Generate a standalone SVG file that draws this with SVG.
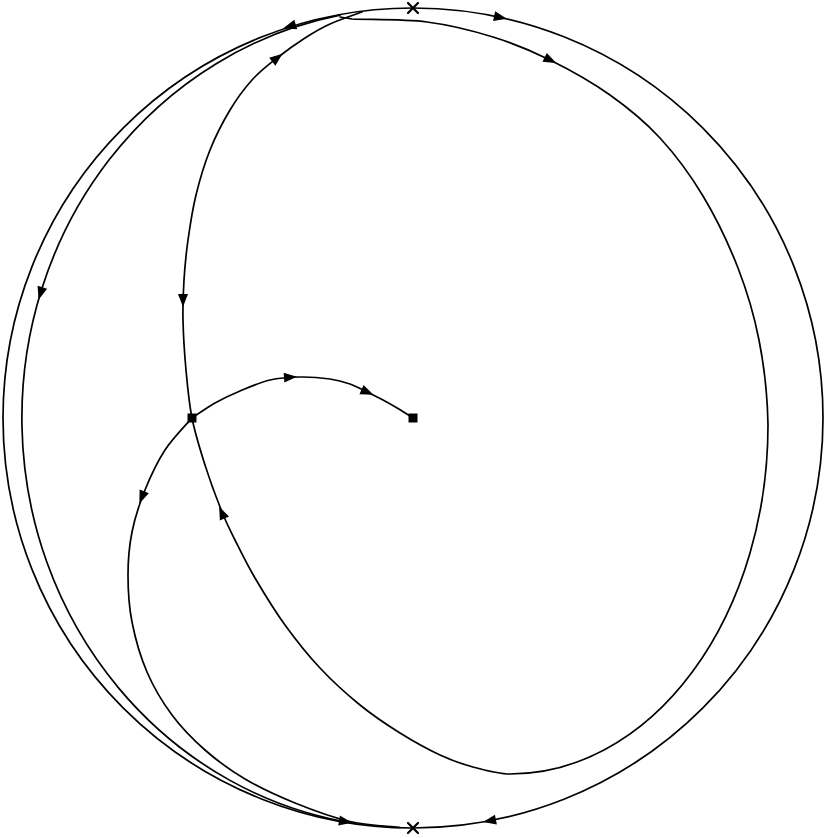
<svg xmlns="http://www.w3.org/2000/svg" xmlns:xlink="http://www.w3.org/1999/xlink" width="826" height="838" viewBox="0 0 826 838">
<style>
.c{fill:none;stroke:#000;stroke-width:1.7;stroke-linecap:round;stroke-linejoin:round}
.a{fill:#000;stroke:none}
.x{stroke:#000;stroke-width:2.2;stroke-linecap:round}
.sq{fill:#000}
</style>
<defs>
<path id="ah" class="a" d="M7,0 L-6,-5 L-6,5 Z"/>
</defs>
<rect width="826" height="838" fill="#fff"/>
<g id="connectors">
<circle id="boundary" class="c" cx="413" cy="418" r="410"/>
<path id="inner-loop" class="c" d="M340 15.2 A391 410 0 0 0 355 823.5"/>
<path id="big-loop" class="c" d="M340 17 L352 19 C366.5 19.83 403.5 19 427 22 C450.5 25 472.5 30.67 493 37 C513.5 43.33 530.5 50.33 550 60 C569.5 69.67 591.67 82 610 95 C628.33 108 644.5 121.17 660 138 C675.5 154.83 690 174.33 703 196 C716 217.67 728.67 244 738 268 C747.33 292 754 314.67 759 340 C764 365.33 767.5 395 768 425 A258 349 0 0 1 510 774 C498.5 774 484.67 770.17 473 767 C461.33 763.83 452.17 760.67 440 755 C427.83 749.33 413.33 741.33 400 733 C386.67 724.67 373.33 715.83 360 705 C346.67 694.17 332.5 681.33 320 668 C307.5 654.67 295.83 640 285 625 C274.17 610 263.33 592.17 255 578 C246.67 563.83 240.5 551 235 540 C229.5 529 227 524.5 222 512 C217 499.5 210 480.67 205 465 C200 449.33 195.17 433.83 192 418 C188.83 402.17 187.5 386.33 186 370 C184.5 353.67 183.33 335 183 320 C182.67 305 183.17 293.33 184 280 C184.83 266.67 186 254.17 188 240 C190 225.83 192.33 210 196 195 C199.67 180 204.33 164.17 210 150 C215.67 135.83 223 121.67 230 110 C237 98.33 244.17 88.67 252 80 C259.83 71.33 268.17 65 277 58 C285.83 51 296.17 43.67 305 38 C313.83 32.33 320.5 28.33 330 24 C339.5 19.67 356.67 14 362 12"/>
<path id="unstable-lower" class="c" d="M192 418 C187.5 423.33 172.83 438 165 450 C157.17 462 150.5 476.33 145 490 C139.5 503.67 134.83 517.83 132 532 C129.17 546.17 128 560 128 575 C128 590 128.83 605.83 132 622 C135.17 638.17 140.33 656.5 147 672 C153.67 687.5 162.33 702 172 715 C181.67 728 192.83 739.33 205 750 C217.17 760.67 230 770.17 245 779 C260 787.83 277.5 795.92 295 803 C312.5 810.08 332.5 817.42 350 821.5 C367.5 825.58 391.67 826.5 400 827.5"/>
<path id="unstable-upper" class="c" d="M192 418 C195.83 415.5 207 407.5 215 403 C223 398.5 230.83 394.83 240 391 C249.17 387.17 260 382.33 270 380 C280 377.67 290 377.17 300 377 C310 376.83 321.67 377.830 330 379 C338.33 380.17 343.83 381.83 350 384 C356.17 386.17 361.5 389.33 367 392 C372.5 394.67 377.83 397.25 383 400 C388.17 402.75 393 405.5 398 408.5 C403 411.5 410.5 416.42 413 418"/>
<use xlink:href="#ah" transform="translate(500,17.3) rotate(12)"/>
<use xlink:href="#ah" transform="translate(550,60) rotate(26)"/>
<use xlink:href="#ah" transform="translate(290,26.3) rotate(163)"/>
<use xlink:href="#ah" transform="translate(277,58) rotate(-38)"/>
<use xlink:href="#ah" transform="translate(40.6,293) rotate(107)"/>
<use xlink:href="#ah" transform="translate(183,300) rotate(90)"/>
<use xlink:href="#ah" transform="translate(290,377.2) rotate(-4)"/>
<use xlink:href="#ah" transform="translate(367,392) rotate(24)"/>
<use xlink:href="#ah" transform="translate(142,497) rotate(112)"/>
<use xlink:href="#ah" transform="translate(222,513) rotate(-114)"/>
<use xlink:href="#ah" transform="translate(345,821.5) rotate(10)"/>
<use xlink:href="#ah" transform="translate(490,820.7) rotate(169)"/>
</g>
<g id="saddle"><rect class="sq" x="187.5" y="413.5" width="9" height="9"/></g>
<g id="center"><rect class="sq" x="408.5" y="413.5" width="9" height="9"/></g>
<g id="top-point"><path class="x" d="M408 3 L418 13 M418 3 L408 13"/></g>
<g id="bottom-point"><path class="x" d="M408 823 L418 833 M418 823 L408 833"/></g>
</svg>
